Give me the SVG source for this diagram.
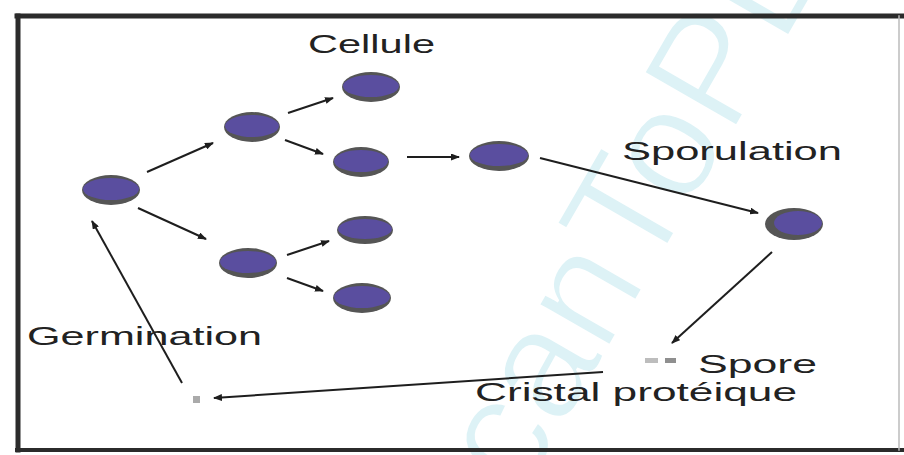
<svg xmlns="http://www.w3.org/2000/svg" width="904" height="455" viewBox="0 0 904 455">
<defs>
<style>
.lbl{font-family:"Liberation Sans",Arial,sans-serif;font-size:25px;fill:#222;}
.wm{font-family:"Liberation Sans",Arial,sans-serif;font-size:156px;fill:#ddf2f6;stroke:#fff;stroke-width:3;}
.cg{fill:#555;}
.cp{fill:#5a4e9f;}
.ln{stroke:#1e1e1e;stroke-width:2;fill:none;marker-end:url(#ah);}
</style>
<marker id="ah" markerUnits="userSpaceOnUse" markerWidth="9" markerHeight="7" refX="8" refY="3.5" orient="auto">
<path d="M0,0 L9,3.5 L0,7 z" fill="#1e1e1e"/>
</marker>
</defs>
<rect width="904" height="455" fill="#fff"/>
<text class="wm" x="470" y="588" transform="rotate(-60 470 588)">ScanToPDF</text>
<g id="frame" stroke-linecap="square">
<line x1="17" y1="16" x2="904" y2="16" stroke="#2b2b2b" stroke-width="5"/>
<line x1="18" y1="16" x2="18" y2="450" stroke="#2b2b2b" stroke-width="5"/>
<line x1="17" y1="450" x2="904" y2="450" stroke="#2b2b2b" stroke-width="4"/>
<line x1="899" y1="16" x2="899" y2="450" stroke="#bbb" stroke-width="1.5"/>
</g>
<g id="connectors">
<line class="ln" x1="147" y1="172" x2="213" y2="143"/>
<line class="ln" x1="288" y1="113" x2="333" y2="98"/>
<line class="ln" x1="285" y1="140" x2="323" y2="154"/>
<line class="ln" x1="407" y1="157" x2="459" y2="157"/>
<line class="ln" x1="540" y1="158" x2="758" y2="213"/>
<line class="ln" x1="772" y1="252" x2="672" y2="343"/>
<line class="ln" x1="603" y1="372" x2="214" y2="398"/>
<line class="ln" x1="182" y1="383" x2="92" y2="221"/>
<line class="ln" x1="138" y1="208" x2="206" y2="239"/>
<line class="ln" x1="287" y1="255" x2="329" y2="241"/>
<line class="ln" x1="287" y1="278" x2="323" y2="291"/>
</g>
<g id="cell1"><ellipse class="cg" cx="111" cy="190" rx="29" ry="15"/><ellipse class="cp" cx="111" cy="189" rx="28" ry="11"/></g>
<g id="cell2"><ellipse class="cg" cx="252" cy="127" rx="28" ry="15"/><ellipse class="cp" cx="252" cy="126" rx="27" ry="11"/></g>
<g id="cell3"><ellipse class="cg" cx="371" cy="87" rx="29" ry="15"/><ellipse class="cp" cx="371" cy="86" rx="28" ry="11"/></g>
<g id="cell4"><ellipse class="cg" cx="361" cy="162" rx="28" ry="15"/><ellipse class="cp" cx="361" cy="161" rx="27" ry="11"/></g>
<g id="cell5"><ellipse class="cg" cx="499" cy="156" rx="30" ry="15"/><ellipse class="cp" cx="499" cy="155" rx="29" ry="11"/></g>
<g id="cell6"><ellipse class="cg" cx="794" cy="224" rx="29" ry="16"/><ellipse class="cp" cx="798" cy="223" rx="24" ry="12"/></g>
<g id="cell7"><ellipse class="cg" cx="248" cy="263" rx="29" ry="15"/><ellipse class="cp" cx="248" cy="262" rx="28" ry="11"/></g>
<g id="cell8"><ellipse class="cg" cx="365" cy="230" rx="28" ry="14"/><ellipse class="cp" cx="365" cy="229" rx="27" ry="10"/></g>
<g id="cell9"><ellipse class="cg" cx="362" cy="298" rx="29" ry="15"/><ellipse class="cp" cx="362" cy="297" rx="28" ry="11"/></g>
<g id="spore"><rect x="645" y="358" width="13" height="5" fill="#bdbdbd"/><rect x="665" y="358" width="11" height="5" fill="#8f8f8f"/></g>
<g id="germ-dot"><rect x="193" y="396" width="7" height="7" fill="#aaa"/></g>
<g id="labels">
<text class="lbl" x="308" y="53" textLength="127" lengthAdjust="spacingAndGlyphs">Cellule</text>
<text class="lbl" x="622" y="160" textLength="220" lengthAdjust="spacingAndGlyphs">Sporulation</text>
<text class="lbl" x="27" y="345" textLength="235" lengthAdjust="spacingAndGlyphs">Germination</text>
<text class="lbl" x="698" y="373" textLength="119" lengthAdjust="spacingAndGlyphs">Spore</text>
<text class="lbl" x="475" y="401" textLength="322" lengthAdjust="spacingAndGlyphs">Cristal protéique</text>
</g>
</svg>
